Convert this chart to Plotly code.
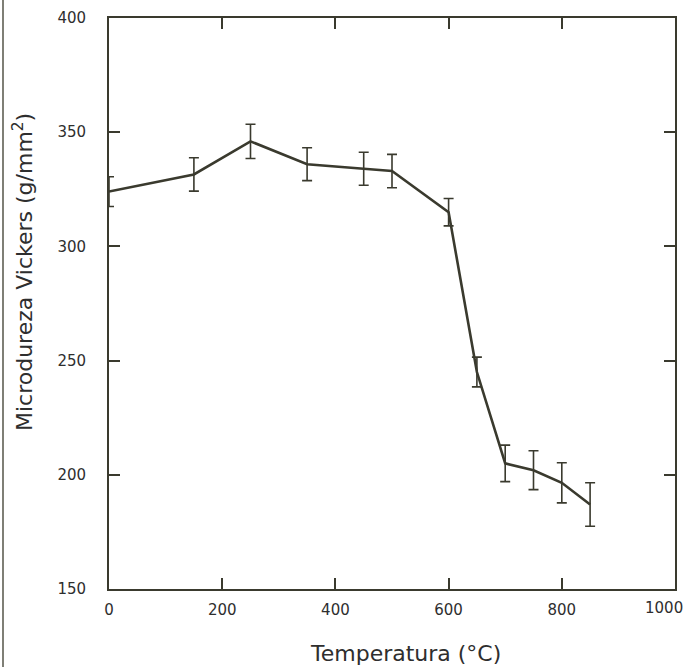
import plotly.graph_objects as go

temperatura = [0, 150, 250, 350, 450, 500, 600, 650, 700, 750, 800, 850]
microdureza = [324, 331.5, 346, 336, 334, 333, 315, 245, 205, 202, 196.5, 187]
erro = [6.5, 7.3, 7.5, 7.2, 7.2, 7.3, 6, 6.5, 8, 8.5, 8.8, 9.5]

x_ticks = [0, 200, 400, 600, 800, 1000]
y_ticks = [150, 200, 250, 300, 350, 400]
x_title = "Temperatura (°C)"
y_title = "Microdureza Vickers (g/mm<sup>2</sup>)"

ink = "#3a3a2e"
txt = "#2e2e2e"
font_family = "'DejaVu Sans', sans-serif"

W, H = 685, 667
L, R, T, B = 109, 10, 18, 78
pw, ph = W - L - R, H - T - B

fig = go.Figure()
fig.add_trace(go.Scatter(
    x=temperatura, y=microdureza, mode="lines",
    line=dict(color=ink, width=2.6),
    error_y=dict(type="data", array=erro, visible=True, color=ink, thickness=1.6, width=5),
    showlegend=False,
))

axis_common = dict(
    showline=True, linecolor=ink, linewidth=1.8, mirror="ticks",
    ticks="inside", tickcolor=ink, tickwidth=1.6, ticklen=11,
    showgrid=False, zeroline=False, automargin=False,
    tickfont=dict(family=font_family, size=15, color=txt),
)

x_text = [str(v) for v in x_ticks[:-1]] + [""]
fig.update_xaxes(range=[0, 1000], tickvals=x_ticks, ticktext=x_text,
                 ticklabelstandoff=6, **axis_common)
fig.update_yaxes(range=[150, 400], tickvals=y_ticks,
                 ticklabelstandoff=18, **axis_common)

# last x tick label, pulled inside the page as in the reference
fig.add_annotation(x=x_ticks[-1], xref="x", y=0, yref="paper",
                   text=str(x_ticks[-1]), showarrow=False,
                   xanchor="center", yanchor="middle", xshift=-11, yshift=-19,
                   font=dict(family=font_family, size=15, color=txt))

# axis titles
fig.add_annotation(x=(405 - L) / pw, xref="paper", y=-(653 - T - ph) / ph, yref="paper",
                   text=x_title, showarrow=False, xanchor="center", yanchor="middle",
                   font=dict(family=font_family, size=22, color=txt))
fig.add_annotation(x=-(L - 23) / pw, xref="paper", y=1 - (272 - T) / ph, yref="paper",
                   text=y_title, showarrow=False, textangle=-90,
                   xanchor="center", yanchor="middle",
                   font=dict(family=font_family, size=22, color=txt))

# left border line of the scanned page
fig.add_shape(type="line", xref="paper", yref="paper",
              x0=-(L - 3) / pw, x1=-(L - 3) / pw, y0=-B / ph, y1=1 + T / ph,
              line=dict(color="#555548", width=1.5))

fig.update_layout(
    width=W, height=H,
    margin=dict(l=L, r=R, t=T, b=B),
    paper_bgcolor="white", plot_bgcolor="white",
)

fig.write_html("out.html", config={"displayModeBar": False},
               post_script="document.body.style.margin='0';document.body.style.overflow='hidden';")
